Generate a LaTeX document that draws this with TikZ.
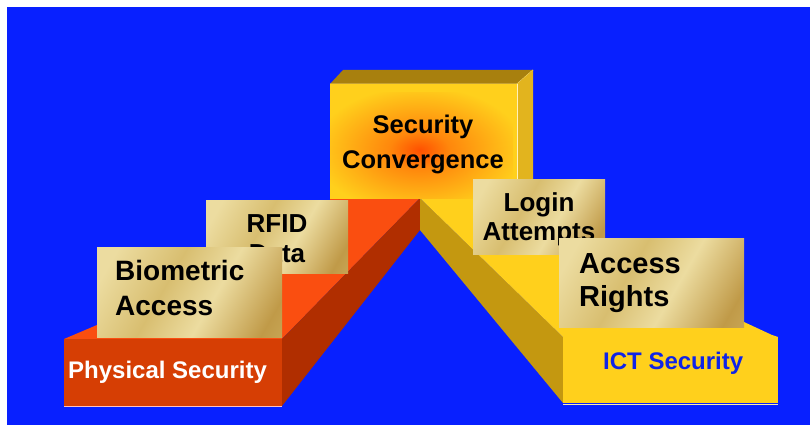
\documentclass[tikz,border=0pt]{standalone}
\usepackage{fontspec}
\setmainfont{Liberation Sans}

\definecolor{bgblue}{RGB}{8,32,255}
\definecolor{redtop}{RGB}{250,78,16}
\definecolor{redfront}{RGB}{214,62,4}
\definecolor{redside}{RGB}{176,46,0}
\definecolor{goldtop}{RGB}{255,208,28}
\definecolor{goldside}{RGB}{196,152,16}
\definecolor{capdark}{RGB}{168,128,14}
\definecolor{capside}{RGB}{226,180,30}
\definecolor{glowred}{RGB}{255,80,0}
\definecolor{gloworange}{RGB}{255,135,12}
\definecolor{tanlight}{RGB}{236,220,160}
\definecolor{tanmid}{RGB}{216,190,112}
\definecolor{tandark}{RGB}{192,154,72}
\definecolor{ictblue}{RGB}{16,36,230}

\pgfdeclareradialshading{convglow}{\pgfpoint{0bp}{0bp}}{color(0bp)=(glowred); color(8bp)=(gloworange); color(28bp)=(goldtop); color(50bp)=(goldtop)}
\pgfdeclarehorizontalshading{goldsheen}{100bp}{color(0bp)=(tanlight); color(22bp)=(tanlight); color(42bp)=(tanmid); color(58bp)=(tanlight); color(78bp)=(tandark); color(100bp)=(tanmid)}

\tikzset{
  tanbox/.style={shade, shading=goldsheen, shading angle=-30, outer sep=0pt, inner sep=0pt, anchor=north west},
  lbl/.style={inner sep=0pt, font=\bfseries\fontsize{#1}{#1}\selectfont},
}

\begin{document}
\begin{tikzpicture}[x=1pt,y=-1pt]
\useasboundingbox (0,0) rectangle (810,425);
\fill[bgblue] (7,7) rectangle (810,425);
% physical security slab
\fill[redtop] (64,339) -- (97,325) -- (150,300) -- (210,250) -- (210,200) -- (330,200) -- (330,198) -- (420,198) -- (282,339) -- cycle;
\fill[redside] (282,339) -- (420,198) -- (420,230) -- (282,406) -- cycle;
\fill[redfront] (64,339) rectangle (282,406);
\draw[red!25!white, line width=1pt] (64,406.5) -- (282,406.5);
\node[lbl=24, text=white, anchor=base west] (phys) at (68,378) {Physical Security};
% ict security slab
\fill[goldside] (420,198) -- (563,337) -- (563,403) -- (420,230) -- cycle;
\fill[goldtop] (420,198) -- (480,198) -- (590,250) -- (740,300) -- (744,322) -- (772,335) -- (778,337) -- (563,337) -- cycle;
\fill[goldtop] (563,337) rectangle (778,403);
\draw[goldtop!40!white, line width=1pt] (563,404) -- (778,404);
\node[lbl=24, text=ictblue, anchor=base west] (ict) at (603,369) {ICT Security};
% convergence block
\fill[capdark] (330,84) -- (343,70) -- (533,70) -- (517,84) -- cycle;
\draw[goldtop!60!white, line width=0.8pt] (330,84) -- (517,84) -- (533,70);
\fill[capside] (517,84) -- (533,70) -- (533,185) -- (517,198) -- cycle;
\fill[goldtop] (330,84) rectangle (517,198);
\begin{scope}
  \clip (330,84) rectangle (517,198);
  \shade[shading=convglow] (326,93) rectangle (513,207);
\end{scope}
\draw[goldtop!30!white, line width=1pt] (517,84) -- (517,180);
\node[lbl=25.5, anchor=base] (sec) at (423,133) {Security};
\node[lbl=25.5, anchor=base] (conv) at (423,168) {Convergence};
% cards
\node[tanbox, minimum width=142pt, minimum height=73pt] (rfid) at (206,200) {};
\node[lbl=26, anchor=base] (rfidA) at (277,232) {RFID};
\node[lbl=26, anchor=base] (rfidB) at (277,262) {Data};
\node[tanbox, minimum width=185pt, minimum height=90pt] (bio) at (97,247) {};
\node[lbl=28, anchor=base west] (bioA) at (115,280) {Biometric};
\node[lbl=28, anchor=base west] (bioB) at (115,315) {Access};
\node[tanbox, minimum width=132pt, minimum height=75pt] (login) at (473,179) {};
\node[lbl=26, anchor=base] (loginA) at (539,211) {Login};
\node[lbl=26, anchor=base] (loginB) at (539,240) {Attempts};
\node[tanbox, minimum width=185pt, minimum height=89pt] (rights) at (559,238) {};
\node[lbl=29, anchor=base west] (rightsA) at (579,273) {Access};
\node[lbl=29, anchor=base west] (rightsB) at (579,306) {Rights};
\end{tikzpicture}
\end{document}
